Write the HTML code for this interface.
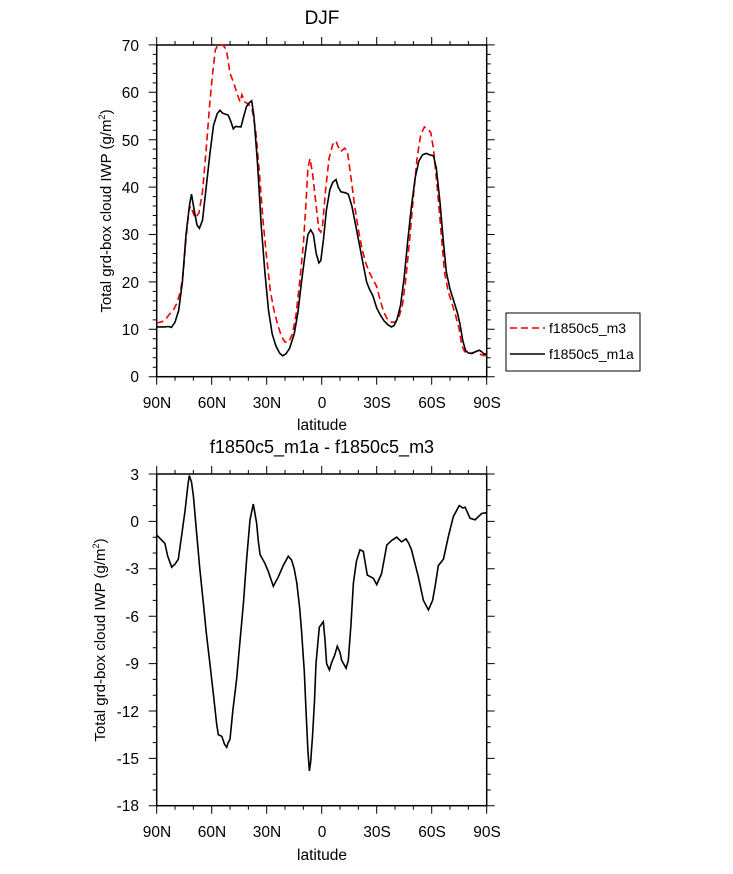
<!DOCTYPE html>
<html><head><meta charset="utf-8"><style>
html,body{margin:0;padding:0;background:#fff;}
svg text{font-family:"Liberation Sans",Arial,sans-serif;fill:#000;}
</style></head><body>
<svg id="s" width="733" height="869" viewBox="0 0 733 869" xmlns="http://www.w3.org/2000/svg">
<text x="322" y="24" font-size="19" text-anchor="middle">DJF</text>
<text x="322" y="453" font-size="18" text-anchor="middle">f1850c5_m1a - f1850c5_m3</text>
<g font-size="15.5" text-anchor="end">
<text x="139" y="51">70</text><text x="139" y="98">60</text><text x="139" y="146">50</text>
<text x="139" y="193">40</text><text x="139" y="240">30</text><text x="139" y="288">20</text>
<text x="139" y="335">10</text><text x="139" y="382">0</text>
<text x="139" y="480">3</text><text x="139" y="527">0</text><text x="139" y="574">-3</text>
<text x="139" y="622">-6</text><text x="139" y="669">-9</text><text x="139" y="717">-12</text>
<text x="139" y="764">-15</text><text x="139" y="811">-18</text>
</g>
<g font-size="15.5" text-anchor="middle">
<text x="157" y="408">90N</text><text x="212" y="408">60N</text><text x="267" y="408">30N</text>
<text x="322" y="408">0</text><text x="377" y="408">30S</text><text x="432" y="408">60S</text><text x="487" y="408">90S</text>
<text x="322" y="430">latitude</text>
<text x="157" y="837">90N</text><text x="212" y="837">60N</text><text x="267" y="837">30N</text>
<text x="322" y="837">0</text><text x="377" y="837">30S</text><text x="432" y="837">60S</text><text x="487" y="837">90S</text>
<text x="322" y="860">latitude</text>
</g>
<text font-size="15" text-anchor="middle" transform="translate(111,211) rotate(-90)">Total grd-box cloud IWP (g/m<tspan font-size="9" dy="-6">2</tspan><tspan dy="6">)</tspan></text>
<text font-size="15" text-anchor="middle" transform="translate(105,640) rotate(-90)">Total grd-box cloud IWP (g/m<tspan font-size="9" dy="-6">2</tspan><tspan dy="6">)</tspan></text>
<rect x="156.7" y="45" width="330" height="331.7" fill="none" stroke="#000" stroke-width="1.5"/>
<rect x="156.7" y="474" width="330" height="331.7" fill="none" stroke="#000" stroke-width="1.5"/>
<path id="ticks" fill="none" stroke="#000" stroke-width="1"/>
<path id="red" fill="none" stroke="#e00" stroke-width="1.6" stroke-dasharray="7,4"/>
<path id="blk" fill="none" stroke="#000" stroke-width="1.6"/>
<path id="dif" fill="none" stroke="#000" stroke-width="1.6"/>
<rect x="506" y="313" width="134" height="58" fill="#fff" stroke="#000" stroke-width="1"/>
<line x1="510" y1="328" x2="545" y2="328" stroke="#e00" stroke-width="1.6" stroke-dasharray="7,4"/>
<line x1="510" y1="354" x2="545" y2="354" stroke="#000" stroke-width="1.6"/>
<text x="549" y="333" font-size="14">f1850c5_m3</text>
<text x="549" y="359" font-size="14">f1850c5_m1a</text>
</svg>
<script>
var X=function(d){return 156.7+d*1.8333;};
var T=function(v){return 376.7-v*4.74;};
var B=function(v){return 474+(3-v)*15.8;};
function path(a,f){var s="";for(var i=0;i<a.length;i+=2){s+=(i?"L":"M")+X(a[i]).toFixed(1)+","+f(a[i+1]).toFixed(1);}return s;}
var blk=[0,10.5,4,10.5,6.5,10.6,8,10.4,10,11.5,12,14,14,20,16,30,18,36.5,19,38.5,20.5,35,22,32,23.3,31.3,25,33,27,40,29,47,31,53,33,55.5,34.5,56.2,36,55.6,39,55.2,40.5,53.8,41.8,52.3,43,52.8,46,52.7,47.5,55,49,57,50.5,57.8,51.8,58.2,53,55,55,45,57,32,59,22,61,14,63,9,65,6.5,67,5,68.7,4.4,70.5,4.8,72.5,6,75,9,77,13.5,79,20,81,26,82.5,30,84,31,85.5,30,87,26,88.5,24,89.5,24.5,91,29,92.5,35,94.5,39.5,96,41,97.8,41.6,99,40,100.5,39,103,38.8,104.5,38.5,106.5,36,108.5,32,110.5,28,112.5,24,114.5,20,116,18.5,118,17,120,14.5,122,13,124,11.8,126,11,128,10.5,129.5,10.8,131,12,133,15,135,21,137,29,139,36,141,42,143,45.5,145,46.8,147,47.1,149,46.8,151,46.6,152.5,44,154.5,37,156.5,28,158,22,160,18.5,162,16,164,13.5,165.5,11,167,7.5,168.5,5.5,170,5,172,4.9,174,5.3,176,5.6,177.5,5.2,178.5,4.8,180,4.8];
var red=[0,11.3,3,11.6,5,12.2,7,13.2,9,14,11,15.5,13,18,14.5,22,16,29,17.5,35,18.5,36,19.5,35,21,33.5,23,34.5,25,39,27,48,29,58,30.5,64,32,69,33.5,70,36,70,38,69,40,64,42,62,44,59.5,45.5,58,46.5,59.5,48,58,50,57.5,52,56.5,54,52,56,43,58,33,60,25,62,18,64,14,66,11,68,8.5,70,7.3,72,7.3,74,9,76,13,78,20,80,28,81.5,37,82.5,44,83.6,46,85,43,87,36,88.5,31,89.5,30.5,90.5,32,92,39,94,46,96,49,97.8,49.7,99,48.5,100.5,47.5,102.5,48.2,104,47.5,106,42,108,36,110,31,112,27,114,24,116,22,118,20.5,120,19,122,16,124,13.5,126,12,128,11.5,130,11.5,132,12.5,134,15,136,21,138,29,140,38,142,46,144,51,146,52.7,148,52.2,149.5,51.5,151,48,153,40,155,31,157,22,159,18,161,15.5,163,13,165,10,166.5,6.5,168,5.3,170,5,172,5,174,5.3,176,4.8,178,4.5,180,4.5];
var dif=[0,-0.86,2,-1.1,4.5,-1.4,6,-2.2,8.2,-2.9,10,-2.7,11.8,-2.4,13.5,-1,15.5,0.7,17,2.3,17.8,2.9,19,2.5,20,1.6,21.8,-0.8,23.5,-3,25.5,-5.2,27,-7,29,-9,31,-11,32.7,-12.8,33.6,-13.5,35.5,-13.6,37,-14.1,38.2,-14.3,39,-14,40,-13.8,41.5,-12,43.6,-10,45.5,-7.5,47.3,-5.2,49,-2.5,50.9,0.1,52.7,1.1,54.5,-0.1,55.5,-1.3,56.4,-2.1,59,-2.65,61,-3.2,63.6,-4.1,66.4,-3.5,69,-2.8,71.8,-2.2,73.6,-2.45,75,-3,76.4,-3.9,78,-5.5,79,-6.9,80.5,-9.5,81.5,-12.1,82.5,-14.5,83.3,-15.8,84,-15.2,85,-13.6,86,-11.5,86.9,-9,88.7,-6.7,90.9,-6.35,91.8,-7.5,92.7,-9,94.2,-9.4,95.5,-8.9,97,-8.5,98.5,-7.9,100,-8.3,100.9,-8.8,103.3,-9.3,104.5,-8.8,106,-6.5,107.3,-3.9,109,-2.5,110.9,-1.8,112.7,-1.9,114,-2.8,114.9,-3.4,116.5,-3.5,118.2,-3.6,120,-4,122.7,-3.3,125.5,-1.5,128.2,-1.2,130.9,-1,133.6,-1.3,136,-1.1,137.5,-1.4,139,-1.8,142.7,-3.5,145.5,-5,148.2,-5.6,150.5,-5,152,-4,153.6,-2.8,156.4,-2.4,159,-1,161.8,0.3,165,1,167,0.85,168.2,0.9,170.9,0.2,173.6,0.1,177.3,0.5,180,0.55];
document.getElementById("blk").setAttribute("d",path(blk,T));
document.getElementById("red").setAttribute("d",path(red,T));
document.getElementById("dif").setAttribute("d",path(dif,B));
var t="",L=156.7,R=486.7;
function xt(top,bot){for(var d=0;d<=180;d+=10){var x=X(d),m=(d%30==0)?8:4;t+="M"+x+","+top+"v"+(-m)+"M"+x+","+bot+"v"+m;}}
xt(45,376.7);xt(474,805.7);
for(var v=0;v<=70;v+=2){var y=T(v),m=(v%10==0)?8:4;t+="M"+L+","+y+"h"+(-m)+"M"+R+","+y+"h"+m;}
for(var v=-18;v<=3;v+=1){var y=B(v),m=(v%3==0)?8:4;t+="M"+L+","+y+"h"+(-m)+"M"+R+","+y+"h"+m;}
document.getElementById("ticks").setAttribute("d",t);
</script>
</body></html>
